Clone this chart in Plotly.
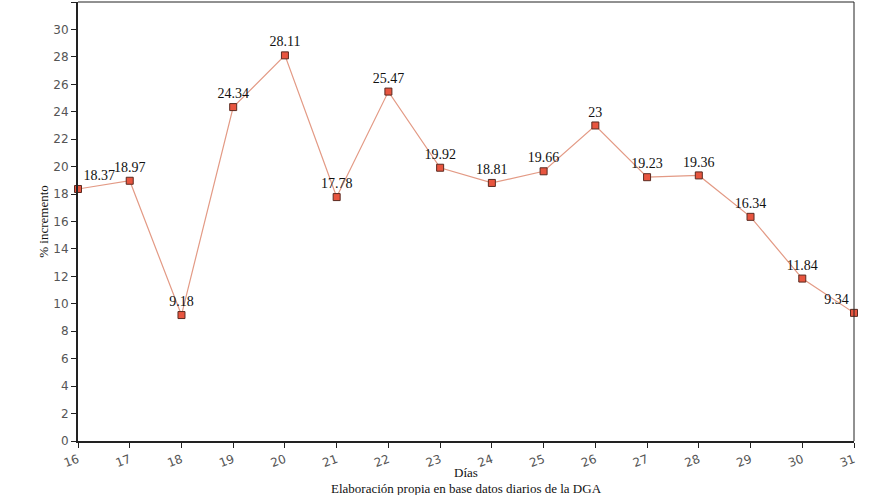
import plotly.graph_objects as go

dias = [16, 17, 18, 19, 20, 21, 22, 23, 24, 25, 26, 27, 28, 29, 30, 31]
incremento = [18.37, 18.97, 9.18, 24.34, 28.11, 17.78, 25.47, 19.92, 18.81, 19.66, 23, 19.23, 19.36, 16.34, 11.84, 9.34]
etiquetas = ["18.37", "18.97", "9.18", "24.34", "28.11", "17.78", "25.47", "19.92", "18.81", "19.66", "23", "19.23", "19.36", "16.34", "11.84", "9.34"]
y_ticks = list(range(0, 33, 2))

positions = ["top center"] * len(dias)
positions[0] = "top right"
positions[-1] = "top left"

fig = go.Figure()
fig.add_trace(go.Scatter(
    x=dias, y=incremento, mode="lines+markers+text",
    text=etiquetas, textposition=positions,
    textfont=dict(family="Liberation Serif", size=14, color="#111"),
    line=dict(color="#e39a85", width=1.2),
    marker=dict(symbol="square", size=7, color="#e8553f",
                line=dict(color="#5a2a20", width=1)),
    cliponaxis=False, showlegend=False,
))

fig.update_layout(
    width=880, height=495,
    margin=dict(l=78, r=26, t=2, b=54, autoexpand=False),
    plot_bgcolor="white", paper_bgcolor="white",
    xaxis=dict(
        range=[16, 31], tickvals=dias, ticktext=[str(d) for d in dias],
        tickangle=-20, ticks="outside", ticklen=5, tickcolor="#222",
        showgrid=False, zeroline=False, automargin=False,
        showline=True, linecolor="#222", linewidth=2, mirror=False,
        tickfont=dict(family="DejaVu Sans", size=12, color="#555"),
    ),
    yaxis=dict(
        range=[0, 32], tickvals=y_ticks, ticks="outside", ticklen=5, tickcolor="#222",
        showgrid=False, zeroline=False, automargin=False,
        showline=True, linecolor="#222", linewidth=2,
        tickfont=dict(family="DejaVu Sans", size=12, color="#555"),
        title=dict(text="% incremento", standoff=2,
                   font=dict(family="Liberation Serif", size=13, color="#111")),
    ),
    shapes=[
        dict(type="line", xref="paper", yref="paper", x0=1, x1=1, y0=0, y1=1,
             line=dict(color="#222", width=1)),
        dict(type="line", xref="paper", yref="paper", x0=0, x1=1, y0=1, y1=1,
             line=dict(color="#222", width=1)),
    ],
    annotations=[
        dict(text="Días", xref="paper", yref="paper", x=0.5, y=0, yshift=-31,
             showarrow=False, yanchor="middle",
             font=dict(family="Liberation Serif", size=13, color="#111")),
        dict(text="Elaboración propia en base datos diarios de la DGA", xref="paper", yref="paper",
             x=0.5, y=0, yshift=-47, showarrow=False, yanchor="middle",
             font=dict(family="Liberation Serif", size=13, color="#111")),
    ],
)

fig.write_html("out.html", config={"displayModeBar": False},
               post_script="document.body.style.margin='0';document.body.style.overflow='hidden';")
